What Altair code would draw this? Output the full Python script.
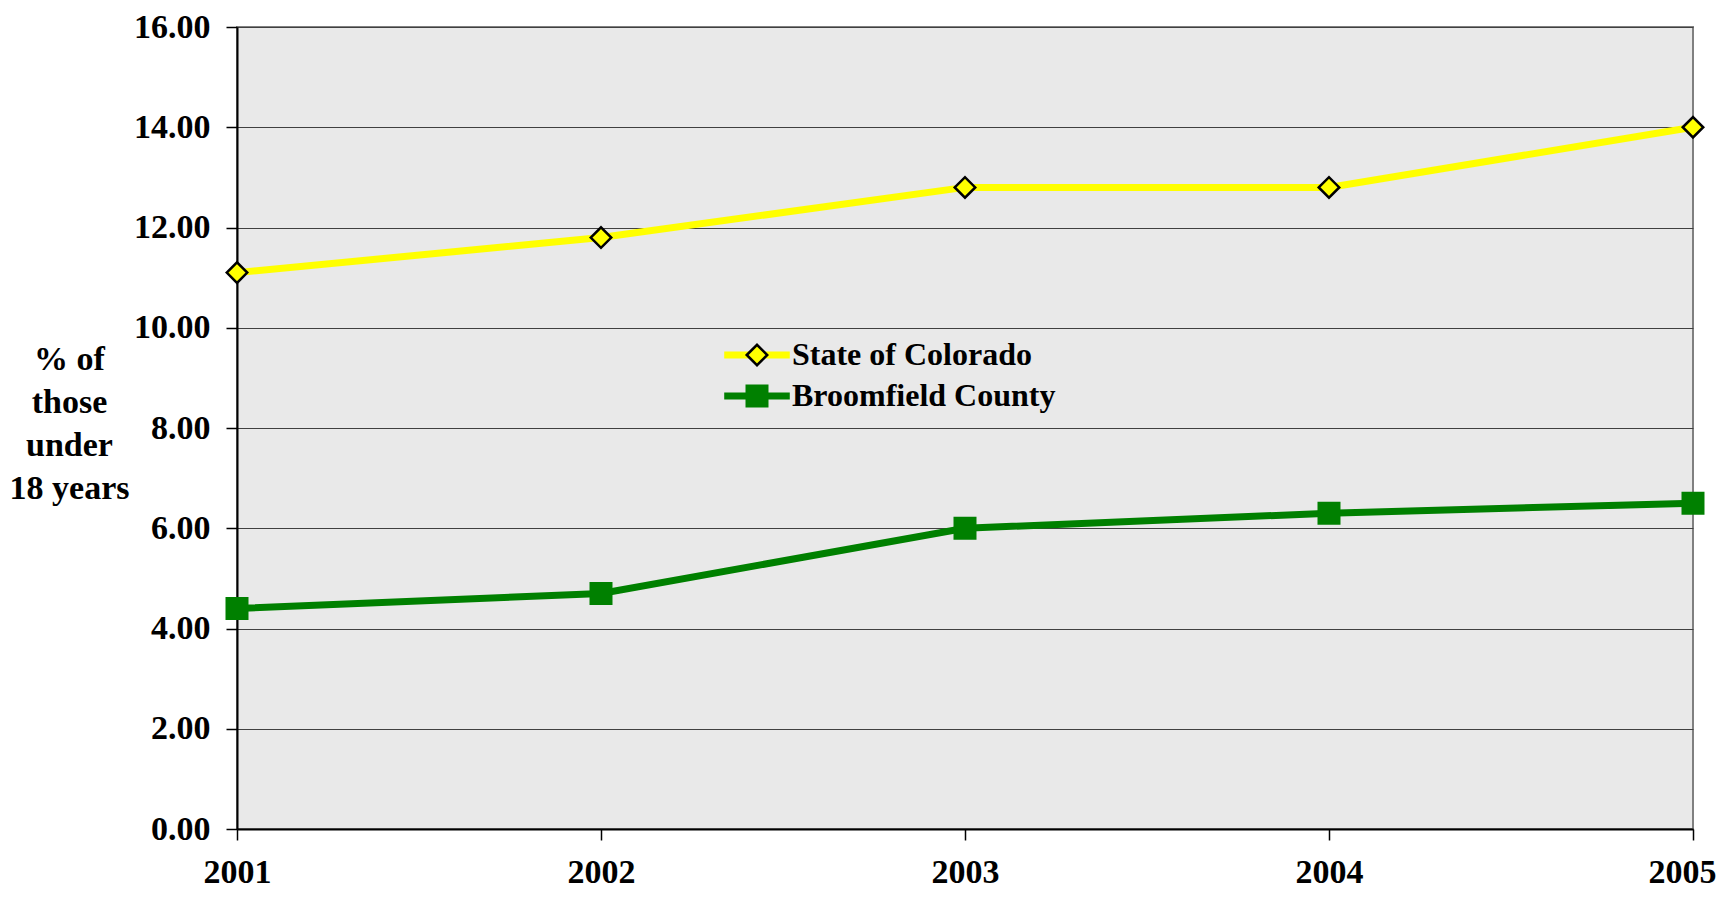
import altair as alt
import pandas as pd

years = ["2001", "2002", "2003", "2004", "2005"]
colorado = [11.1, 11.8, 12.8, 12.8, 14.0]
broomfield = [4.4, 4.7, 6.0, 6.3, 6.5]
series_names = ["State of Colorado", "Broomfield County"]
line_colors = ["#FFFF00", "#008000"]
marker_strokes = ["#000000", "#008000"]
marker_shapes = ["diamond", "square"]
y_ticks = [0, 2, 4, 6, 8, 10, 12, 14, 16]
y_title = ["% of", "those", "under", "18 years"]

rows = []
for name, vals in zip(series_names, [colorado, broomfield]):
    for yr, v in zip(years, vals):
        rows.append({"year": yr, "value": v, "series": name, "series2": name})
df = pd.DataFrame(rows)

FONT = "Liberation Serif"

x = alt.X(
    "year:O",
    scale=alt.Scale(type="point", padding=0),
    axis=alt.Axis(
        title=None, labelAngle=0, labelFlush=False, labelOverlap=False,
        labelPadding=15, tickSize=11, grid=False,
        labelOffset={"condition": {"test": "datum.value == 2005", "value": -11}, "value": 0},
    ),
)
y = alt.Y(
    "value:Q",
    scale=alt.Scale(domain=[0, 16], nice=False, zero=True),
    axis=alt.Axis(
        values=y_ticks, format=".2f", title=y_title, titleAngle=0,
        titleAlign="center", titleBaseline="middle", titleX=-168, titleY=332,
        titleLineHeight=43, titleFont=FONT, titleFontSize=34, titleFontWeight="bold",
        titleColor="black", labelPadding=16, tickSize=11, grid=True,
        gridColor="#404040", gridWidth=1,
    ),
)

common_legend = dict(
    title=None, orient="none", legendX=504, legendY=312, padding=0,
    symbolSize=420, labelFont=FONT, labelFontSize=32, labelFontWeight="bold",
    labelColor="black", rowPadding=9, labelOffset=19, labelLimit=0,
)

fill_expr = "datum.value === '%s' ? '%s' : '%s'" % (series_names[0], line_colors[0], line_colors[1])
stroke_expr = "datum.value === '%s' ? '%s' : '%s'" % (series_names[0], marker_strokes[0], marker_strokes[1])

line = alt.Chart(df).mark_line(strokeWidth=7).encode(
    x=x,
    y=y,
    color=alt.Color(
        "series:N",
        sort=series_names,
        scale=alt.Scale(range=line_colors),
        legend=alt.Legend(symbolType="M-3.2,0L3.2,0", symbolStrokeWidth=7, **common_legend),
    ),
)

points = alt.Chart(df).mark_point(filled=True, size=420, strokeWidth=2.5, opacity=1).encode(
    x=x,
    y=y,
    fill=alt.Fill("series2:N", sort=series_names,
                  scale=alt.Scale(range=line_colors), legend=None),
    stroke=alt.Stroke("series2:N", sort=series_names,
                      scale=alt.Scale(range=marker_strokes), legend=None),
    shape=alt.Shape(
        "series2:N", sort=series_names,
        scale=alt.Scale(range=marker_shapes),
        legend=alt.Legend(
            symbolStrokeWidth=2.5, labelOpacity=0,
            symbolFillColor=alt.ExprRef(expr=fill_expr),
            symbolStrokeColor=alt.ExprRef(expr=stroke_expr),
            symbolOpacity=1,
            **common_legend,
        ),
    ),
)

chart = (
    alt.layer(line, points)
    .properties(
        width=1456, height=802,
        padding={"left": 229, "top": 19, "right": 25, "bottom": 61},
        autosize=alt.AutoSizeParams(type="none"),
    )
    .configure_view(fill="#e9e9e9", stroke="#808080", strokeWidth=2)
    .configure_axis(
        labelFont=FONT, labelFontSize=34, labelFontWeight="bold", labelColor="black",
        domainColor="black", domainWidth=2, tickColor="black", tickWidth=1.5,
    )
)

chart.save("out.html", embed_options={"renderer": "svg", "actions": False})
